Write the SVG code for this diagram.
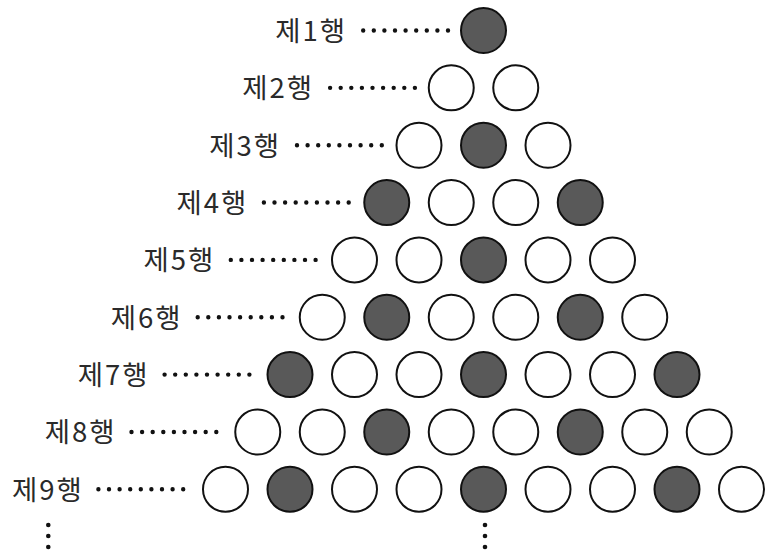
<svg xmlns="http://www.w3.org/2000/svg" width="778" height="551" viewBox="0 0 778 551">
<style>
.o{fill:#fff;stroke:#111;stroke-width:2}
.d{fill:#595959;stroke:#111;stroke-width:2}
.t{font-family:"Noto Sans CJK KR","Noto Sans",sans-serif;font-size:27.5px;fill:#2a2a2a;text-anchor:end;letter-spacing:2px}
.dl{stroke:#111;stroke-width:4.4;stroke-linecap:round;stroke-dasharray:0 10.6;fill:none}
.vd{fill:#111}
</style>
<g id="labels">
<g id="row1-label"><text class="t" x="347" y="41">제1행</text><line class="dl" x1="363.2" y1="30.5" x2="448.3" y2="30.5"/></g>
<g id="row2-label"><text class="t" x="314.1" y="98.35">제2행</text><line class="dl" x1="330.1" y1="87.85" x2="415.2" y2="87.85"/></g>
<g id="row3-label"><text class="t" x="281.2" y="155.7">제3행</text><line class="dl" x1="297" y1="145.2" x2="382.1" y2="145.2"/></g>
<g id="row4-label"><text class="t" x="248.3" y="213.05">제4행</text><line class="dl" x1="263.9" y1="202.55" x2="349" y2="202.55"/></g>
<g id="row5-label"><text class="t" x="215.4" y="270.4">제5행</text><line class="dl" x1="230.8" y1="259.9" x2="315.9" y2="259.9"/></g>
<g id="row6-label"><text class="t" x="182.5" y="327.75">제6행</text><line class="dl" x1="197.7" y1="317.25" x2="282.8" y2="317.25"/></g>
<g id="row7-label"><text class="t" x="149.6" y="385.1">제7행</text><line class="dl" x1="164.6" y1="374.6" x2="249.7" y2="374.6"/></g>
<g id="row8-label"><text class="t" x="116.7" y="442.45">제8행</text><line class="dl" x1="131.5" y1="431.95" x2="216.6" y2="431.95"/></g>
<g id="row9-label"><text class="t" x="83.8" y="499.8">제9행</text><line class="dl" x1="98.4" y1="489.3" x2="183.5" y2="489.3"/></g>
</g>
<g id="row1">
<circle class="d" cx="483.5" cy="30.5" r="22.5"/>
</g>
<g id="row2">
<circle class="o" cx="451.25" cy="87.85" r="22.5"/><circle class="o" cx="515.75" cy="87.85" r="22.5"/>
</g>
<g id="row3">
<circle class="o" cx="419" cy="145.2" r="22.5"/><circle class="d" cx="483.5" cy="145.2" r="22.5"/><circle class="o" cx="548" cy="145.2" r="22.5"/>
</g>
<g id="row4">
<circle class="d" cx="386.75" cy="202.55" r="22.5"/><circle class="o" cx="451.25" cy="202.55" r="22.5"/><circle class="o" cx="515.75" cy="202.55" r="22.5"/><circle class="d" cx="580.25" cy="202.55" r="22.5"/>
</g>
<g id="row5">
<circle class="o" cx="354.5" cy="259.9" r="22.5"/><circle class="o" cx="419" cy="259.9" r="22.5"/><circle class="d" cx="483.5" cy="259.9" r="22.5"/><circle class="o" cx="548" cy="259.9" r="22.5"/><circle class="o" cx="612.5" cy="259.9" r="22.5"/>
</g>
<g id="row6">
<circle class="o" cx="322.25" cy="317.25" r="22.5"/><circle class="d" cx="386.75" cy="317.25" r="22.5"/><circle class="o" cx="451.25" cy="317.25" r="22.5"/><circle class="o" cx="515.75" cy="317.25" r="22.5"/><circle class="d" cx="580.25" cy="317.25" r="22.5"/><circle class="o" cx="644.75" cy="317.25" r="22.5"/>
</g>
<g id="row7">
<circle class="d" cx="290" cy="374.6" r="22.5"/><circle class="o" cx="354.5" cy="374.6" r="22.5"/><circle class="o" cx="419" cy="374.6" r="22.5"/><circle class="d" cx="483.5" cy="374.6" r="22.5"/><circle class="o" cx="548" cy="374.6" r="22.5"/><circle class="o" cx="612.5" cy="374.6" r="22.5"/><circle class="d" cx="677" cy="374.6" r="22.5"/>
</g>
<g id="row8">
<circle class="o" cx="257.75" cy="431.95" r="22.5"/><circle class="o" cx="322.25" cy="431.95" r="22.5"/><circle class="d" cx="386.75" cy="431.95" r="22.5"/><circle class="o" cx="451.25" cy="431.95" r="22.5"/><circle class="o" cx="515.75" cy="431.95" r="22.5"/><circle class="d" cx="580.25" cy="431.95" r="22.5"/><circle class="o" cx="644.75" cy="431.95" r="22.5"/><circle class="o" cx="709.25" cy="431.95" r="22.5"/>
</g>
<g id="row9">
<circle class="o" cx="225.5" cy="489.3" r="22.5"/><circle class="d" cx="290" cy="489.3" r="22.5"/><circle class="o" cx="354.5" cy="489.3" r="22.5"/><circle class="o" cx="419" cy="489.3" r="22.5"/><circle class="d" cx="483.5" cy="489.3" r="22.5"/><circle class="o" cx="548" cy="489.3" r="22.5"/><circle class="o" cx="612.5" cy="489.3" r="22.5"/><circle class="d" cx="677" cy="489.3" r="22.5"/><circle class="o" cx="741.5" cy="489.3" r="22.5"/>
</g>
<g id="ellipsis">
<circle class="vd" cx="48.3" cy="525" r="2.3"/><circle class="vd" cx="48.3" cy="536" r="2.3"/><circle class="vd" cx="48.3" cy="547" r="2.3"/>
<circle class="vd" cx="485" cy="525" r="2.3"/><circle class="vd" cx="485" cy="536" r="2.3"/><circle class="vd" cx="485" cy="547" r="2.3"/>
</g>
</svg>
